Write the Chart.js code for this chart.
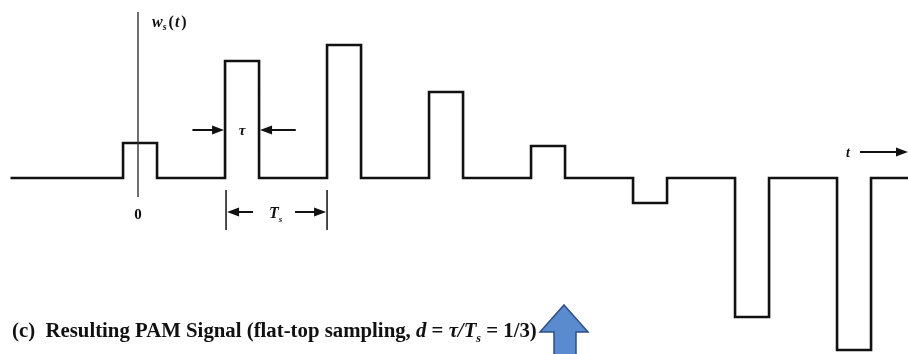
<!DOCTYPE html>
<html>
<head>
<meta charset="utf-8">
<script src="https://cdn.jsdelivr.net/npm/chart.js@4.4.1/dist/chart.umd.min.js"></script>
<style>
  html, body { margin: 0; padding: 0; background: #fff; }
  #wrap { position: relative; width: 908px; height: 354px; }
</style>
</head>
<body>
<div id="wrap"><canvas id="chart" width="908" height="354"></canvas></div>
<script>
// ---- Data (time in units of Ts, amplitude in arbitrary units) ----
const sampleIndex = [0, 1, 2, 3, 4, 5, 6, 7];
const sampleValues = [0.35, 1.17, 1.33, 0.86, 0.32, -0.25, -1.39, -1.72];
const TS = 1;
const DUTY = 1 / 3;           // d = tau / Ts
const TAU = DUTY * TS;
const lineStart = -1.27;      // where the drawn time line begins
const T_MIN = -1.373, T_MAX = 7.529;
const Y_MIN = -1.76, Y_MAX = 1.78;

// flat-top pulses -> one stepped trace
function buildWaveform() {
  const pts = [{ x: lineStart, y: 0 }];
  sampleIndex.forEach((n, i) => {
    const c = n * TS;
    const a = sampleValues[i];
    pts.push({ x: c - TAU / 2, y: 0 });
    pts.push({ x: c - TAU / 2, y: a });
    pts.push({ x: c + TAU / 2, y: a });
    pts.push({ x: c + TAU / 2, y: 0 });
  });
  pts.push({ x: T_MAX, y: 0 });
  return pts;
}

// ---- helpers for the annotation overlay ----
function head(ctx, x, y, dir, len, half) {
  ctx.beginPath();
  ctx.moveTo(x, y);
  ctx.lineTo(x - dir * len, y - half);
  ctx.lineTo(x - dir * len, y + half);
  ctx.closePath();
  ctx.fill();
}

function hArrow(ctx, x0, x1, y) {
  // shaft from x0 to tip at x1
  const dir = x1 > x0 ? 1 : -1;
  ctx.beginPath();
  ctx.moveTo(x0, y);
  ctx.lineTo(x1 - dir * 8, y);
  ctx.stroke();
  head(ctx, x1, y, dir, 12, 4.5);
}

function rich(ctx, x, y, parts) {
  let cx = x;
  parts.forEach(p => {
    ctx.font = p.font;
    ctx.fillText(p.t, cx, y + (p.dy || 0));
    cx += ctx.measureText(p.t).width + (p.gap || 0);
  });
  return cx;
}

const overlay = {
  id: 'overlay',
  afterDatasetsDraw(chart) {
    const ctx = chart.ctx;
    const xs = chart.scales.x, ys = chart.scales.y;
    const px = v => xs.getPixelForValue(v);
    const py = v => ys.getPixelForValue(v);
    ctx.save();
    ctx.fillStyle = '#111';
    ctx.strokeStyle = '#111';
    ctx.textBaseline = 'alphabetic';

    // vertical axis
    ctx.lineWidth = 1.4;
    ctx.strokeStyle = '#333';
    ctx.beginPath();
    ctx.moveTo(px(-0.02), 12);
    ctx.lineTo(px(-0.02), 197);
    ctx.stroke();
    ctx.strokeStyle = '#111';

    // w_s(t)
    rich(ctx, 152, 27, [
      { t: 'w', font: 'italic bold 16px "Liberation Serif"' },
      { t: 's', font: 'italic bold 10px "Liberation Serif"', dy: 3, gap: 2 },
      { t: '(', font: 'bold 16px "Liberation Serif"', gap: 1 },
      { t: 't', font: 'italic bold 16px "Liberation Serif"', gap: 2 },
      { t: ')', font: 'bold 16px "Liberation Serif"' }
    ]);

    // 0 label
    ctx.textAlign = 'center';
    ctx.font = 'bold 15px "Liberation Serif"';
    ctx.fillText('0', px(-0.02), 219);

    // tau marker around pulse 1
    const yTau = py(0.48);
    ctx.lineWidth = 2;
    hArrow(ctx, px(1 - TAU / 2 - 0.32), px(1 - TAU / 2) - 1, yTau);
    hArrow(ctx, px(1 + TAU / 2 + 0.36), px(1 + TAU / 2) + 1, yTau);
    ctx.font = 'italic bold 15px "Liberation Serif"';
    ctx.fillText('τ', px(1), yTau + 5);

    // Ts dimension
    const xa = px(1 - TAU / 2), xb = px(2 - TAU / 2);
    ctx.lineWidth = 1.5;
    ctx.beginPath();
    ctx.moveTo(xa + 1, 190); ctx.lineTo(xa + 1, 230);
    ctx.moveTo(xb, 190); ctx.lineTo(xb, 230);
    ctx.stroke();
    ctx.lineWidth = 2;
    hArrow(ctx, xa + 28, xa + 2, 212);
    hArrow(ctx, xb - 32, xb - 1, 212);
    ctx.textAlign = 'left';
    rich(ctx, xa + 44, 218, [
      { t: 'T', font: 'italic bold 16px "Liberation Serif"' },
      { t: 's', font: 'italic bold 9px "Liberation Serif"', dy: 4 }
    ]);

    // t -> arrow
    ctx.font = 'italic bold 14px "Liberation Serif"';
    ctx.fillText('t', 846, 157);
    ctx.lineWidth = 2;
    hArrow(ctx, 860, 908, 152);

    // caption
    const it = 'italic bold 20.8px "Liberation Serif"';
    const rm = 'bold 20.8px "Liberation Serif"';
    rich(ctx, 12, 337, [
      { t: '(c)  Resulting PAM Signal (flat-top sampling, ', font: rm },
      { t: 'd', font: it },
      { t: ' = ', font: rm },
      { t: 'τ/T', font: it },
      { t: 's', font: 'italic bold 12px "Liberation Serif"', dy: 5 },
      { t: ' = 1/3)', font: rm }
    ]);

    // blue pointer arrow
    ctx.beginPath();
    ctx.moveTo(564, 305);
    ctx.lineTo(588, 332);
    ctx.lineTo(576, 332);
    ctx.lineTo(576, 356);
    ctx.lineTo(554, 356);
    ctx.lineTo(554, 332);
    ctx.lineTo(540, 332);
    ctx.closePath();
    ctx.fillStyle = '#5b8bcf';
    ctx.fill();
    ctx.strokeStyle = '#2f4f86';
    ctx.lineWidth = 1.5;
    ctx.stroke();
    ctx.restore();
  }
};

new Chart(document.getElementById('chart'), {
  type: 'line',
  data: {
    datasets: [{
      data: buildWaveform(),
      borderColor: '#111',
      borderWidth: 2.6,
      borderJoinStyle: 'miter',
      pointRadius: 0,
      tension: 0,
      fill: false
    }]
  },
  options: {
    responsive: false,
    animation: false,
    layout: { padding: 0 },
    scales: {
      x: { type: 'linear', min: T_MIN, max: T_MAX, display: false },
      y: { min: Y_MIN, max: Y_MAX, display: false }
    },
    plugins: { legend: { display: false }, tooltip: { enabled: false } }
  },
  plugins: [overlay]
});
</script>
</body>
</html>
